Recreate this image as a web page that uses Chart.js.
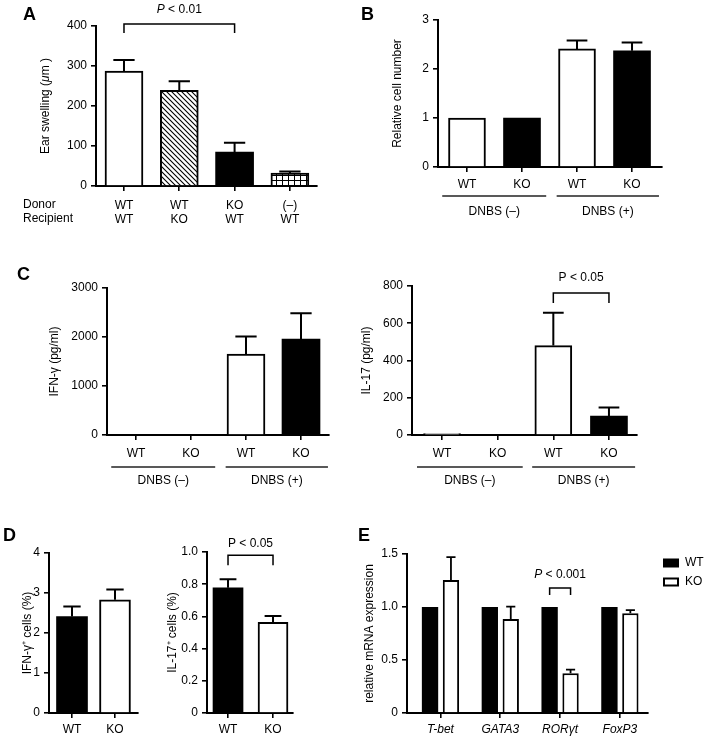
<!DOCTYPE html>
<html><head><meta charset="utf-8">
<script src="https://cdn.jsdelivr.net/npm/chart.js@4.4.1/dist/chart.umd.min.js"></script>
<style>
html,body{margin:0;padding:0;background:#fff;}
#wrap{position:relative;width:709px;height:747px;overflow:hidden;background:#fff;}
canvas{position:absolute;left:0;top:0;}
</style></head><body><div id="wrap"></div>
<script>
// ================= DATA =================
// Panel A
const catsA = [['WT','WT'],['WT','KO'],['KO','WT'],['(–)','WT']];
const valsA = [287, 239, 85, 32];
const errA  = [28, 23, 23, 4];
const ticksA = [0, 100, 200, 300, 400];
// Panel B
const catsB = ['WT','KO','WT','KO'];
const valsB = [1, 1, 2.41, 2.37];
const errB  = [0, 0, 0.17, 0.17];
const ticksB = [0, 1, 2, 3];
// Panel C (left: IFN-γ, right: IL-17)
const catsC = ['WT','KO','WT','KO'];
const valsCifn = [0, 0, 1650, 1960];
const errCifn  = [0, 0, 360, 525];
const ticksCifn = [0, 1000, 2000, 3000];
const valsCil17 = [8, 0, 480, 102];
const errCil17  = [0, 0, 177, 45];
const ticksCil17 = [0, 200, 400, 600, 800];
const groupsBC = ['DNBS (–)', 'DNBS (+)'];
// Panel D
const catsD = ['WT','KO'];
const valsDifn = [2.41, 2.83];
const errDifn  = [0.25, 0.26];
const ticksDifn = [0, 1, 2, 3, 4];
const valsDil17 = [0.778, 0.563];
const errDil17  = [0.052, 0.04];
const ticksDil17 = [0, 0.2, 0.4, 0.6, 0.8, 1.0];
// Panel E
const catsE = ['T-bet','GATA3','RORγt','FoxP3'];
const valsEwt = [1, 1, 1, 1];
const errEwt  = [0, 0, 0, 0];
const valsEko = [1.255, 0.887, 0.375, 0.94];
const errEko  = [0.215, 0.116, 0.035, 0.03];
const ticksE = [0, 0.5, 1.0, 1.5];

// ================= HELPERS =================
const FONT = "Arial, 'Liberation Sans', Helvetica, sans-serif";
Chart.defaults.font.family = FONT;
Chart.defaults.color = '#000';
const wrap = document.getElementById('wrap');

function rich(ctx, segs, x, y, align, size, rot) {
  if (typeof segs === 'string') segs = [{t: segs}];
  ctx.save(); ctx.translate(x, y); if (rot) ctx.rotate(rot);
  ctx.textBaseline = 'middle'; ctx.fillStyle = '#000'; ctx.textAlign = 'left';
  const f = s => (s.it ? 'italic ' : '') + (s.b ? 'bold ' : '') + (s.size || size) + 'px ' + FONT;
  let w = 0; segs.forEach(s => { ctx.font = f(s); w += ctx.measureText(s.t).width; });
  let cx = align === 'center' ? -w / 2 : align === 'right' ? -w : 0;
  segs.forEach(s => { ctx.font = f(s); ctx.fillText(s.t, cx, 0); cx += ctx.measureText(s.t).width; });
  ctx.restore();
}

function annotPlugin(cfg) {
  return {
    id: 'annot',
    afterDraw(chart) {
      const ctx = chart.ctx, xs = chart.scales.x, ys = chart.scales.y;
      ctx.save();
      ctx.strokeStyle = '#000'; ctx.lineCap = 'butt';
      // error bars (upper whisker)
      chart.data.datasets.forEach((ds, di) => {
        if (!ds.errors) return;
        const meta = chart.getDatasetMeta(di);
        meta.data.forEach((el, i) => {
          const e = ds.errors[i]; if (!e) return;
          const yTop = ys.getPixelForValue(ds.data[i].y + e);
          const hw = el.width * 0.28;
          ctx.lineWidth = cfg.errW || 2;
          ctx.beginPath();
          ctx.moveTo(el.x, el.y); ctx.lineTo(el.x, yTop);
          ctx.moveTo(el.x - hw, yTop); ctx.lineTo(el.x + hw, yTop);
          ctx.stroke();
        });
      });
      // significance brackets
      (cfg.brackets || []).forEach(b => {
        const xa = chart.getDatasetMeta(b.a[0]).data[b.a[1]].x;
        const xb = chart.getDatasetMeta(b.b[0]).data[b.b[1]].x;
        const yy = ys.getPixelForValue(b.y);
        ctx.lineWidth = 1.5;
        ctx.beginPath();
        ctx.moveTo(xa, yy + b.leg); ctx.lineTo(xa, yy); ctx.lineTo(xb, yy); ctx.lineTo(xb, yy + b.leg);
        ctx.stroke();
        rich(ctx, b.text, (xa + xb) / 2, yy - b.textDy, 'center', 12);
      });
      // group lines under axis
      (cfg.groups || []).forEach(g => {
        const x1 = xs.getPixelForValue(g.from - g.padL);
        const x2 = xs.getPixelForValue(g.to + g.padR);
        const yb = chart.chartArea.bottom;
        ctx.strokeStyle = '#222'; ctx.lineWidth = 1.5;
        ctx.beginPath(); ctx.moveTo(x1, yb + cfg.groupLineDy); ctx.lineTo(x2, yb + cfg.groupLineDy); ctx.stroke();
        rich(ctx, g.text, (x1 + x2) / 2, yb + cfg.groupTextDy, 'center', 12);
      });
      // free texts
      (cfg.texts || []).forEach(t => rich(ctx, t.segs, t.x, t.y, t.align || 'left', t.size || 12, t.rot));
      // legend
      if (cfg.legend) {
        const L = cfg.legend;
        chart.data.datasets.forEach((ds, di) => {
          const y = L.y + di * L.dy;
          ctx.fillStyle = ds.borderColor; ctx.fillRect(L.x, y - 4.5, 16, 9);
          ctx.fillStyle = ds.backgroundColor; ctx.fillRect(L.x + 2, y - 2.5, 12, 5);
          rich(ctx, ds.label, L.x + 22, y, 'left', 12);
        });
      }
      ctx.restore();
    }
  };
}

function panel(cfg) {
  const cv = document.createElement('canvas');
  cv.width = 709; cv.height = 747; wrap.appendChild(cv);
  const A = cfg.area;
  const gridOpts = { display: true, drawOnChartArea: false, drawTicks: true, tickLength: 5, color: '#000', lineWidth: 1.6, offset: false };
  const borderOpts = { display: true, color: '#000', width: 2 };
  const datasets = cfg.datasets(cv.getContext('2d'));
  return new Chart(cv, {
    type: 'bar',
    data: { datasets },
    options: {
      responsive: false, animation: false, events: [],
      layout: { padding: { left: A.L, top: A.top, right: 709 - A.right, bottom: 0 } },
      plugins: { legend: { display: false }, tooltip: { enabled: false } },
      scales: {
        x: {
          type: 'linear', min: cfg.xmin, max: cfg.xmax, offset: false, bounds: 'data', z: 1,
          afterBuildTicks: s => { s.ticks = cfg.cats.map((c, i) => ({ value: i + 1 })); },
          afterFit: s => { s.height = 747 - A.bottom; },
          ticks: { autoSkip: false, maxRotation: 0, minRotation: 0, padding: cfg.xpad, color: '#000',
                   font: { size: 12, style: cfg.xItalic ? 'italic' : 'normal' },
                   callback: v => cfg.cats[Math.round(v) - 1] },
          grid: gridOpts, border: borderOpts
        },
        y: {
          min: cfg.yticks[0], max: cfg.yticks[cfg.yticks.length - 1], z: 1,
          afterBuildTicks: s => { s.ticks = cfg.yticks.map(v => ({ value: v })); },
          afterFit: s => { s.width = A.left - A.L; },
          ticks: { padding: 4, color: '#000', font: { size: 12 }, callback: cfg.yfmt || (v => String(v)) },
          grid: gridOpts, border: borderOpts,
          title: cfg.ytitle ? { display: true, text: cfg.ytitle, color: '#000', font: { size: 12 }, padding: 0 } : { display: false }
        }
      }
    },
    plugins: [annotPlugin(cfg)]
  });
}

const pts = arr => arr.map((v, i) => ({ x: i + 1, y: v }));
const dec1 = v => (v === 0 ? '0' : v.toFixed(1));
const WHITE = '#ffffff', BLACK = '#000000';

function hatchPattern(ctx) {
  const c = document.createElement('canvas'); c.width = 5; c.height = 5;
  const g = c.getContext('2d');
  g.fillStyle = '#fff'; g.fillRect(0, 0, 5, 5);
  g.strokeStyle = '#000'; g.lineWidth = 1.1;
  g.beginPath();
  g.moveTo(-1, -1); g.lineTo(6, 6);
  g.moveTo(-1, 4); g.lineTo(2, 7);
  g.moveTo(4, -1); g.lineTo(7, 2);
  g.stroke();
  return ctx.createPattern(c, 'repeat');
}
function gridPattern(ctx) {
  const c = document.createElement('canvas'); c.width = 6; c.height = 5;
  const g = c.getContext('2d');
  g.fillStyle = '#fff'; g.fillRect(0, 0, 6, 5);
  g.fillStyle = '#000'; g.fillRect(0, 0, 1, 5); g.fillRect(0, 0, 6, 1);
  return ctx.createPattern(c, 'repeat');
}

// ================= PANEL A =================
panel({
  area: { L: 30, left: 96, right: 317, top: 26, bottom: 186 },
  xmin: 0.494, xmax: 4.49, xpad: 7, cats: catsA, yticks: ticksA,
  datasets: ctx => [{
    data: pts(valsA), errors: errA, barThickness: 38,
    backgroundColor: [WHITE, hatchPattern(ctx), BLACK, gridPattern(ctx)],
    borderColor: BLACK, borderWidth: [2, 2, 0, 2]
  }],
  brackets: [{ a: [0, 0], b: [0, 2], y: 405, leg: 9, textDy: 14, text: [{ t: 'P', it: true }, { t: ' < 0.01' }] }],
  texts: [
    { segs: [{ t: 'A', b: true }], x: 23, y: 15, size: 18 },
    { segs: [{ t: 'B', b: true }], x: 361, y: 15, size: 18 },
    { segs: [{ t: 'C', b: true }], x: 17, y: 275, size: 18 },
    { segs: [{ t: 'D', b: true }], x: 3, y: 536, size: 18 },
    { segs: [{ t: 'E', b: true }], x: 358, y: 536, size: 18 },
    { segs: 'Donor', x: 23, y: 205 },
    { segs: 'Recipient', x: 23, y: 219 },
    { segs: [{ t: 'Ear swelling (' }, { t: 'μ', it: true }, { t: 'm )' }], x: 46, y: 106, align: 'center', rot: -Math.PI / 2 }
  ]
});

// ================= PANEL B =================
panel({
  area: { L: 390.8, left: 438, right: 662, top: 20, bottom: 167 },
  xmin: 0.473, xmax: 4.545, xpad: 5, cats: catsB, yticks: ticksB, ytitle: 'Relative cell number',
  datasets: () => [{
    data: pts(valsB), errors: errB, barThickness: 37,
    backgroundColor: [WHITE, BLACK, WHITE, BLACK], borderColor: BLACK, borderWidth: [2, 0, 2, 0]
  }],
  groupLineDy: 29, groupTextDy: 45,
  groups: [{ from: 1, to: 2, padL: 0.45, padR: 0.44, text: groupsBC[0] }, { from: 3, to: 4, padL: 0.37, padR: 0.49, text: groupsBC[1] }]
});

// ================= PANEL C left =================
panel({
  area: { L: 47.8, left: 107, right: 329, top: 288, bottom: 435 },
  xmin: 0.473, xmax: 4.509, xpad: 6, cats: catsC, yticks: ticksCifn, ytitle: 'IFN-γ (pg/ml)',
  datasets: () => [{
    data: pts(valsCifn), errors: errCifn, barThickness: 38,
    backgroundColor: [WHITE, BLACK, WHITE, BLACK], borderColor: BLACK, borderWidth: [2, 0, 2, 0]
  }],
  groupLineDy: 32, groupTextDy: 46,
  groups: [{ from: 1, to: 2, padL: 0.45, padR: 0.44, text: groupsBC[0] }, { from: 3, to: 4, padL: 0.37, padR: 0.49, text: groupsBC[1] }]
});

// ================= PANEL C right =================
panel({
  area: { L: 359.8, left: 412, right: 637, top: 286, bottom: 435 },
  xmin: 0.46, xmax: 4.504, xpad: 6, cats: catsC, yticks: ticksCil17, ytitle: 'IL-17 (pg/ml)',
  datasets: () => [{
    data: pts(valsCil17), errors: errCil17, barThickness: 37,
    backgroundColor: [WHITE, BLACK, WHITE, BLACK], borderColor: BLACK, borderWidth: [2, 0, 2, 0]
  }],
  brackets: [{ a: [0, 2], b: [0, 3], y: 762, leg: 10, textDy: 15, text: 'P < 0.05' }],
  groupLineDy: 32, groupTextDy: 46,
  groups: [{ from: 1, to: 2, padL: 0.45, padR: 0.45, text: groupsBC[0] }, { from: 3, to: 4, padL: 0.38, padR: 0.47, text: groupsBC[1] }]
});

// ================= PANEL D left =================
panel({
  area: { L: 20.8, left: 49, right: 138, top: 553, bottom: 713 },
  xmin: 0.465, xmax: 2.535, xpad: 4, cats: catsD, yticks: ticksDifn, ytitle: 'IFN-γ⁺ cells (%)',
  datasets: () => [{
    data: pts(valsDifn), errors: errDifn, barThickness: 31,
    backgroundColor: [BLACK, WHITE], borderColor: BLACK, borderWidth: [0, 2]
  }]
});

// ================= PANEL D right =================
panel({
  area: { L: 165.8, left: 207, right: 293, top: 552, bottom: 713 },
  xmin: 0.533, xmax: 2.444, xpad: 4, cats: catsD, yticks: ticksDil17, ytitle: 'IL-17⁺ cells (%)', yfmt: dec1,
  datasets: () => [{
    data: pts(valsDil17), errors: errDil17, barThickness: 30,
    backgroundColor: [BLACK, WHITE], borderColor: BLACK, borderWidth: [0, 2]
  }],
  brackets: [{ a: [0, 0], b: [0, 1], y: 0.98, leg: 10, textDy: 12, text: 'P < 0.05' }]
});

// ================= PANEL E =================
panel({
  area: { L: 362.8, left: 407, right: 648, top: 554, bottom: 713 },
  xmin: 0.44, xmax: 4.47, xpad: 4, cats: catsE, xItalic: true, yticks: ticksE, ytitle: 'relative mRNA expression', yfmt: dec1,
  errW: 1.8,
  datasets: () => [
    { label: 'WT', data: pts(valsEwt), errors: errEwt, backgroundColor: BLACK, borderColor: BLACK, borderWidth: 0,
      categoryPercentage: 0.7, barPercentage: 0.78 },
    { label: 'KO', data: pts(valsEko), errors: errEko, backgroundColor: WHITE, borderColor: BLACK, borderWidth: 2,
      categoryPercentage: 0.7, barPercentage: 0.78 }
  ],
  brackets: [{ a: [0, 2], b: [1, 2], y: 1.18, leg: 7, textDy: 13, text: [{ t: 'P', it: true }, { t: ' < 0.001' }] }],
  legend: { x: 663, y: 563, dy: 19 }
});
</script></body></html>
